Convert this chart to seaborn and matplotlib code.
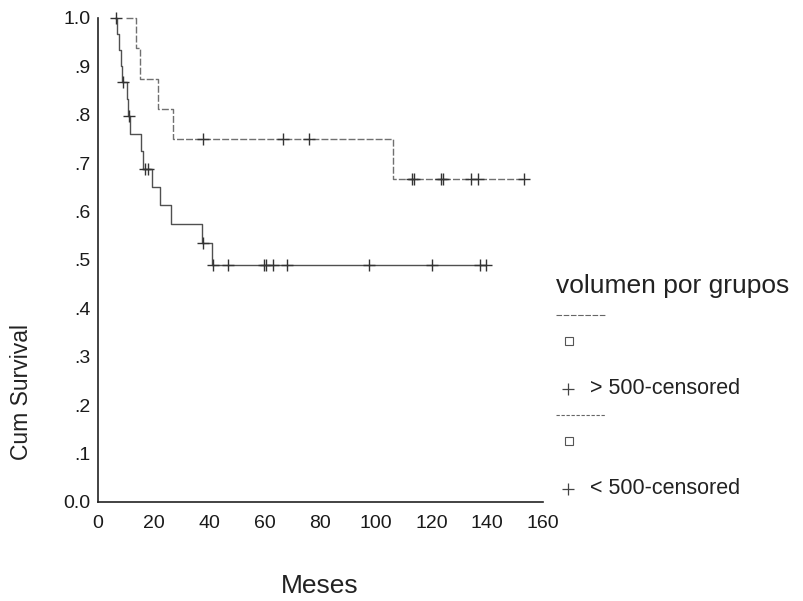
import numpy as np
import pandas as pd
import matplotlib
matplotlib.use("Agg")
import matplotlib.pyplot as plt
from matplotlib.lines import Line2D
import seaborn as sns

# ---- data ----
# group "> 500" (upper curve)
hi_step_t = [10.0, 13.7, 15.0, 21.6, 27.0, 106.0]
hi_step_s = [1.0, 0.9375, 0.875, 0.8125, 0.75, 0.667]
hi_end = 153.0
hi_cens = [37.8, 66.5, 76.0, 113.0, 113.6, 123.3, 124.2, 134.0, 136.8, 153.0]

# group "< 500" (lower curve)
lo_step_t = [6.1, 7.0, 7.6, 8.2, 8.8, 10.5, 10.9, 11.5, 15.5, 16.3, 19.5, 22.3, 26.3, 37.3, 40.9]
lo_step_s = [1.0, 0.967, 0.933, 0.90, 0.867, 0.832, 0.797, 0.761, 0.725, 0.689, 0.651, 0.613, 0.574, 0.536, 0.49]
lo_end = 139.6
lo_cens = [6.3, 9.1, 11.0, 16.9, 18.1, 37.9, 41.5, 46.9, 59.8, 60.3, 62.8, 68.0, 97.6, 120.0, 137.2, 139.6]

x_ticks = [0, 20, 40, 60, 80, 100, 120, 140, 160]
y_ticks = [0.0, 0.1, 0.2, 0.3, 0.4, 0.5, 0.6, 0.7, 0.8, 0.9, 1.0]
y_ticklabels = ["0.0", ".1", ".2", ".3", ".4", ".5", ".6", ".7", ".8", ".9", "1.0"]
legend_title = "volumen por grupos"
group_labels = ["> 500-censored", "< 500-censored"]

sns.set_style("white")
plt.rcParams["font.family"] = ["Liberation Sans", "DejaVu Sans"]

fig = plt.figure(figsize=(8.04, 6.01), dpi=100)
W, H = 804, 601
ax = fig.add_axes([98 / W, 1 - 502 / H, 445 / W, 484 / H])


def step_df(ts, ss, end):
    t = list(ts) + [end]
    s = list(ss) + [ss[-1]]
    return pd.DataFrame({"t": t, "s": s})


def cens_df(ts, ss, cens):
    ts = np.asarray(ts)
    ss = np.asarray(ss)
    idx = np.searchsorted(ts, cens, side="right") - 1
    idx = np.clip(idx, 0, len(ss) - 1)
    return pd.DataFrame({"t": cens, "s": ss[idx]})


hi = step_df(hi_step_t, hi_step_s, hi_end)
lo = step_df(lo_step_t, lo_step_s, lo_end)

sns.lineplot(data=hi, x="t", y="s", ax=ax, drawstyle="steps-post", estimator=None,
             sort=False, color="#707070", linewidth=1.0, linestyle=(0, (5, 1.5)), clip_on=False)
sns.lineplot(data=lo, x="t", y="s", ax=ax, drawstyle="steps-post", estimator=None,
             sort=False, color="#505050", linewidth=1.0, clip_on=False)

for df in (cens_df(hi_step_t, hi_step_s, hi_cens), cens_df(lo_step_t, lo_step_s, lo_cens)):
    sns.scatterplot(data=df, x="t", y="s", ax=ax, marker="+", s=80, color="#333333",
                    linewidth=1.0, clip_on=False, zorder=5)

ax.set_xlim(0, 160)
ax.set_ylim(0, 1)
ax.set_xticks(x_ticks)
ax.set_xticklabels([str(v) for v in x_ticks])
ax.set_yticks(y_ticks)
ax.set_yticklabels(y_ticklabels)
for sp in ("top", "right"):
    ax.spines[sp].set_visible(False)
for sp in ("left", "bottom"):
    ax.spines[sp].set_color("#222222")
    ax.spines[sp].set_linewidth(1.2)
ax.tick_params(axis="both", direction="out", length=4, width=1.8, color="#222222",
               labelsize=14, labelcolor="#1a1a1a", pad=1.5)
ax.tick_params(axis="x", length=3, pad=6)

ax.set_xlabel("Meses", fontsize=19, color="#222222")
ax.set_ylabel("Cum Survival", fontsize=16.5, color="#222222")
ax.xaxis.set_label_coords((320 - 98) / 445, (502 - 574) / 484)
ax.yaxis.set_label_coords((33 - 98) / 445, (502 - 392) / 484)

# ---- legend drawn in figure pixels ----
def fx(px):
    return px / W


def fy(py):
    return 1 - py / H


fig.text(fx(556), fy(286), legend_title, fontsize=19, color="#222222", va="center", ha="left")
for i, (yl, lab, ls) in enumerate(zip([315, 415], group_labels, [(0, (5, 1.5)), (0, (3, 1.5))])):
    fig.add_artist(Line2D([fx(556), fx(605)], [fy(yl), fy(yl)], color="#666666",
                          linewidth=0.8, linestyle=ls))
    fig.add_artist(Line2D([fx(569)], [fy(yl + 26)], marker="s", markersize=5.5,
                          markerfacecolor="white", markeredgecolor="#555555", markeredgewidth=0.8))
    fig.add_artist(Line2D([fx(568)], [fy(yl + 74)], marker="+", markersize=9,
                          color="#444444", markeredgewidth=0.9))
    fig.text(fx(590), fy(yl + 74), lab, fontsize=15.5, color="#222222", va="center", ha="left")

fig.savefig("out.png", dpi=100)
